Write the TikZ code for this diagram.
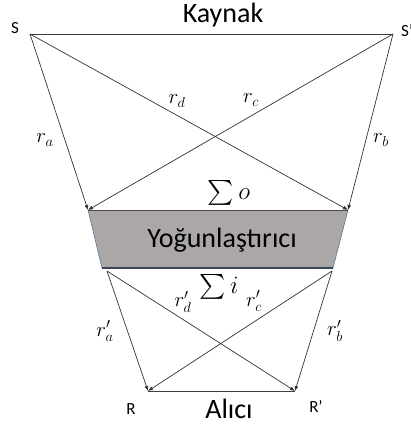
\documentclass[tikz,border=0pt]{standalone}
\usepackage{amsmath}
\usepackage{fontspec}
\setmainfont{Carlito}
\usetikzlibrary{arrows.meta}

\definecolor{condgray}{HTML}{ABA7A6}
\definecolor{condedge}{HTML}{5B7A9C}
\definecolor{condbase}{HTML}{3A4658}

\begin{document}
\begin{tikzpicture}[
  x=1pt, y=-1pt,
  ray/.style={-{Latex[length=5pt,width=4pt]}, draw=black!80, line width=0.7pt},
  plain/.style={draw=black!75, line width=0.8pt},
  big/.style={font=\fontsize{28}{32}\selectfont, inner sep=1pt},
  tag/.style={font=\fontsize{17}{19}\selectfont, anchor=base, inner sep=1pt},
  lbl/.style={font=\fontsize{21}{23}\selectfont, inner sep=1pt},
  sumlbl/.style={font=\fontsize{25}{28}\selectfont, inner sep=1pt}
]
  \useasboundingbox (0,0) rectangle (411,426);

  % end points
  \coordinate (S)  at (30,34);
  \coordinate (Sp) at (393,34);
  \coordinate (A)  at (88,210);
  \coordinate (B)  at (348,210);
  \coordinate (C)  at (102,268);
  \coordinate (D)  at (333,268);
  \coordinate (E)  at (107,271);
  \coordinate (F)  at (332,271);
  \coordinate (R)  at (148,391);
  \coordinate (Rp) at (295,391);

  % condenser
  \fill[condgray] (A) -- (B) -- (D) -- (C) -- cycle;
  \draw[condedge, line width=0.6pt] (A) -- (C) (B) -- (D);
  \draw[condbase, line width=1.2pt] (C) -- (D);
  \draw[black!70, line width=0.8pt] (A) -- (B);

  % source and receiver lines
  \draw[plain] (S) -- (Sp);
  \draw[plain, line width=1pt] (R) -- (Rp);

  \foreach \a/\b in {S/A, S/B, Sp/A, Sp/B, E/R, E/Rp, F/R, F/Rp}
    \draw[ray] (\a) -- (\b);

  % texts
  \node (kaynak) [big, anchor=base] at (223,22) {Kaynak};
  \node (yog)    [big, anchor=base] at (222,247) {Yoğunlaştırıcı};
  \node (alici)  [big, anchor=base] at (229,418) {Alıcı};
  \node (sl)  [tag] at (15,33) {S};
  \node (spl) [tag, anchor=base west] at (400,36) {S'};
  \node (rl)  [tag] at (131,414) {R};
  \node (rpl) [tag] at (316,412) {R'};

  \node (ra)  [lbl] at (45,140)  {$r_a$};
  \node (rb)  [lbl] at (381,140) {$r_b$};
  \node (rd)  [lbl] at (177,101) {$r_d$};
  \node (rc)  [lbl] at (251,100) {$r_c$};
  \node (so)  [sumlbl] at (229,193) {$\sum o$};
  \node (si)  [sumlbl] at (219,287) {$\sum i$};
  \node (rdp) [lbl] at (183,302) {$r_d'$};
  \node (rcp) [lbl] at (254,301) {$r_c'$};
  \node (rap) [lbl] at (105,331) {$r_a'$};
  \node (rbp) [lbl] at (335,331) {$r_b'$};
\end{tikzpicture}
\end{document}
